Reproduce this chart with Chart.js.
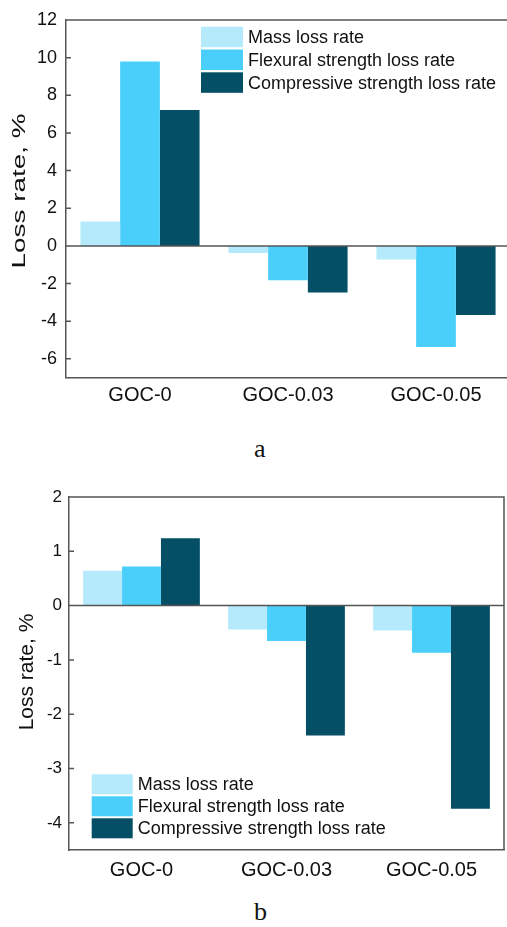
<!DOCTYPE html>
<html>
<head>
<meta charset="utf-8">
<script src="https://cdn.jsdelivr.net/npm/chart.js@4.4.1/dist/chart.umd.min.js"></script>
<style>
html,body{margin:0;padding:0;background:#fff;overflow:hidden;width:507px;height:927px;}
.box{position:absolute;left:0;}
.tag{position:absolute;font-family:"Liberation Serif","Times New Roman",serif;font-size:26px;line-height:26px;color:#111;}
</style>
</head>
<body>
<div class="box" style="top:0px"><canvas id="chartA" width="510" height="420"></canvas></div>
<div class="tag" style="left:254px;top:436px">a</div>
<div class="box" style="top:460px"><canvas id="chartB" width="510" height="430"></canvas></div>
<div class="tag" style="left:254px;top:899px">b</div>
<script>
const categories = ["GOC-0", "GOC-0.03", "GOC-0.05"];
const seriesNames = ["Mass loss rate", "Flexural strength loss rate", "Compressive strength loss rate"];
const seriesColors = ["#b5eafc", "#4acefa", "#044f66"];

// panel a
const massA = [1.3, -0.37, -0.72];
const flexA = [9.8, -1.83, -5.37];
const compA = [7.22, -2.48, -3.67];
const ticksA = [-6, -4, -2, 0, 2, 4, 6, 8, 10, 12];

// panel b
const massB = [0.64, -0.44, -0.46];
const flexB = [0.72, -0.65, -0.87];
const compB = [1.24, -2.39, -3.74];
const ticksB = [-4, -3, -2, -1, 0, 1, 2];

Chart.defaults.font.family = "'Liberation Sans', Arial, sans-serif";
Chart.defaults.color = "#111";

const frame = {
  id: "frame",
  afterDatasetsDraw(chart, args, o) {
    const a = chart.chartArea, ctx = chart.ctx, y = chart.scales.y;
    ctx.save();
    ctx.strokeStyle = "#555";
    ctx.lineWidth = 1.5;
    ctx.beginPath();
    ctx.moveTo(a.left, a.top);
    ctx.lineTo(a.right, a.top);
    ctx.lineTo(a.right, a.bottom);
    y.ticks.forEach(t => {
      const py = y.getPixelForValue(t.value);
      ctx.moveTo(a.left, py);
      ctx.lineTo(a.left + 5, py);
    });
    const zy = y.getPixelForValue(0);
    ctx.moveTo(a.left, zy);
    ctx.lineTo(a.right, zy);
    ctx.stroke();

    // legend
    const L = o.legend;
    ctx.font = L.size + "px 'Liberation Sans', Arial, sans-serif";
    ctx.textBaseline = "middle";
    ctx.textAlign = "left";
    chart.data.datasets.forEach((ds, i) => {
      const by = L.y + i * L.step;
      ctx.fillStyle = ds.backgroundColor;
      ctx.fillRect(L.x, by, L.w, L.h);
      ctx.fillStyle = "#111";
      ctx.fillText(ds.label, L.textX, by + L.h / 2 + 1);
    });

    // y title
    const T = o.title;
    ctx.translate(T.x, T.y);
    ctx.rotate(-Math.PI / 2);
    ctx.scale(T.stretch, 1);
    ctx.font = T.size + "px 'Liberation Sans', Arial, sans-serif";
    ctx.textAlign = "center";
    ctx.fillText(T.text, 0, 0);
    ctx.restore();
  }
};

function makeChart(id, mass, flex, comp, tickVals, min, max, c) {
  return new Chart(document.getElementById(id), {
    type: "bar",
    data: {
      labels: categories,
      datasets: [mass, flex, comp].map((d, i) => ({
        label: seriesNames[i],
        data: d,
        backgroundColor: seriesColors[i],
        borderWidth: 0,
        categoryPercentage: 0.805,
        barPercentage: 1
      }))
    },
    options: {
      responsive: false,
      animation: false,
      layout: { padding: c.padding },
      plugins: {
        legend: { display: false },
        tooltip: { enabled: false },
        frame: { legend: c.legend, title: c.title }
      },
      scales: {
        x: {
          grid: { display: false, drawTicks: false },
          border: { display: true, color: "#555", width: 1.5 },
          ticks: { font: { size: 20 }, padding: c.xPad, color: "#111" },
          afterFit: s => { s.height = c.xHeight; }
        },
        y: {
          min: min,
          max: max,
          grid: { display: false, drawTicks: false },
          border: { display: true, color: "#555", width: 1.5 },
          ticks: { font: { size: c.yFont }, padding: c.yPad, color: "#111" },
          afterBuildTicks: s => { s.ticks = tickVals.map(v => ({ value: v })); },
          afterFit: s => { s.width = c.yWidth; }
        }
      }
    },
    plugins: [frame]
  });
}

makeChart("chartA", massA, flexA, compA, ticksA, -7, 12, {
  padding: { top: 20, left: 0, right: 0, bottom: 0 },
  xHeight: 42.3, yWidth: 66, yFont: 18, yPad: 9, xPad: 6,
  legend: { x: 201, y: 26.7, w: 42, h: 20.5, step: 22.8, textX: 248, size: 18 },
  title: { x: 20, y: 191, size: 18.6, stretch: 1.5, text: "Loss rate, %" }
});

makeChart("chartB", massB, flexB, compB, ticksB, -4.5, 2, {
  padding: { top: 37, left: 0, right: 6, bottom: 0 },
  xHeight: 40, yWidth: 69, yFont: 17, yPad: 7, xPad: 8,
  legend: { x: 91.7, y: 314.3, w: 41, h: 20, step: 22, textX: 137.7, size: 18 },
  title: { x: 27.5, y: 212, size: 21, stretch: 1, text: "Loss rate, %" }
});
</script>
</body>
</html>
